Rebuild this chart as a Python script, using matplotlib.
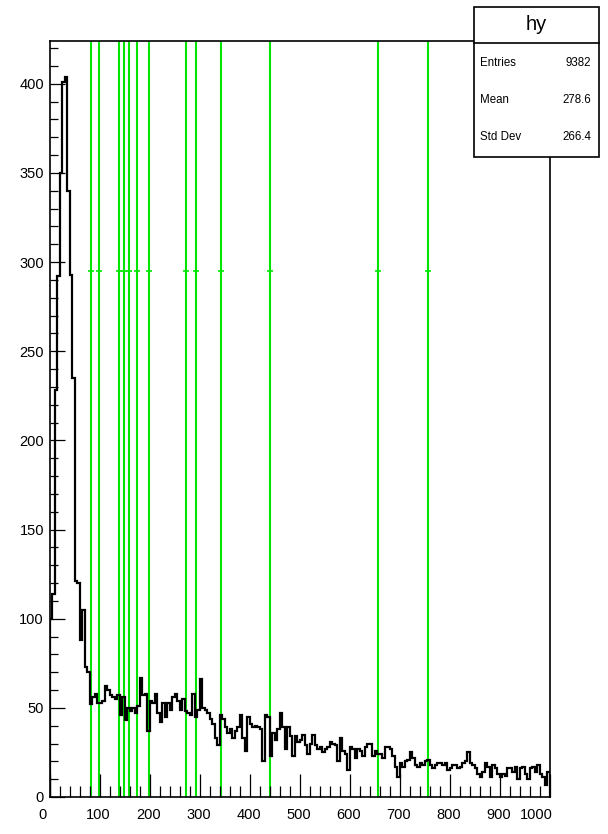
import numpy as np
import matplotlib
matplotlib.use("Agg")
import matplotlib.pyplot as plt
from matplotlib.patches import Rectangle
from matplotlib.ticker import MultipleLocator
from matplotlib.transforms import ScaledTranslation

plt.rcParams['font.family'] = ['Liberation Sans', 'DejaVu Sans']

# histogram "hy": 200 bins of width 5 from 0 to 1000
bin_edges_range = (0, 1000)
counts = [
    100, 114, 228, 292, 350, 401, 404, 340, 293, 235, 121, 120, 88, 105, 73, 70, 52, 56, 58, 53,
    53, 54, 62, 60, 57, 56, 55, 57, 46, 56, 43, 50, 48, 50, 47, 51, 67, 57, 58, 37,
    54, 53, 58, 47, 42, 53, 45, 53, 49, 56, 58, 54, 49, 55, 48, 47, 46, 58, 45, 49,
    66, 50, 49, 47, 44, 41, 33, 29, 46, 44, 39, 36, 38, 33, 37, 39, 46, 33, 26, 45,
    41, 39, 40, 39, 38, 20, 46, 45, 23, 36, 32, 38, 47, 39, 27, 39, 34, 23, 34, 31,
    32, 35, 29, 24, 30, 35, 29, 27, 28, 25, 27, 28, 31, 30, 29, 20, 33, 26, 24, 15,
    28, 27, 22, 27, 26, 23, 28, 30, 30, 23, 26, 24, 24, 22, 28, 28, 27, 23, 17, 11,
    19, 17, 20, 21, 25, 22, 18, 17, 19, 18, 20, 21, 18, 16, 18, 19, 19, 18, 19, 15,
    16, 18, 18, 16, 17, 19, 20, 25, 19, 18, 16, 13, 11, 14, 19, 17, 11, 18, 16, 13,
    11, 13, 12, 16, 16, 14, 17, 10, 16, 17, 13, 10, 16, 17, 14, 18, 13, 11, 7, 14,
]

# positions of found peaks (green lines) and the level of their markers
peak_x = [82, 99, 138, 149, 158, 174, 198, 273, 293, 342, 441, 656, 756]
peak_marker_y = 295

x_ticks = [0, 100, 200, 300, 400, 500, 600, 700, 800, 900, 1000]

stats_title = "hy"
stats_names = ["Entries", "Mean", "Std Dev"]
stats_values = ["9382", "278.6", "266.4"]

W, H = 608, 834
fig = plt.figure(figsize=(W / 100, H / 100), dpi=100)
ax = fig.add_axes([49.5 / W, 1 - 797 / H, 500 / W, 756 / H])

edges = np.linspace(bin_edges_range[0], bin_edges_range[1], len(counts) + 1)

# green peak lines under the histogram
for px in peak_x:
    ax.axvline(px, color='#00e600', lw=1.5, zorder=1)
ax.plot(peak_x, [peak_marker_y] * len(peak_x), ls='none', marker='_',
        ms=5, mew=1.2, color='#00e600', zorder=1)

ax.stairs(counts, edges, color='black', lw=1.6, zorder=3)

ax.set_xlim(0, 1000)
ax.set_ylim(0, 424)
ax.set_xticks(x_ticks)
ax.set_xticklabels([])
ax.xaxis.set_minor_locator(MultipleLocator(20))
ax.yaxis.set_major_locator(MultipleLocator(50))
ax.yaxis.set_minor_locator(MultipleLocator(10))
ax.tick_params(axis='x', which='major', direction='in', length=16.3, width=0.9)
ax.tick_params(axis='x', which='minor', direction='in', length=8.2, width=0.9)
ax.tick_params(axis='y', which='major', direction='in', length=10.8, width=0.9, pad=4, labelsize=10.5)
ax.tick_params(axis='y', which='minor', direction='in', length=5.4, width=0.9)
for sp in ax.spines.values():
    sp.set_linewidth(1.2)

# x labels, ROOT nudges the first and last one to the left
for t in x_ticks:
    dx = -7 if t == 0 else (-13 if t == 1000 else -1)
    tr = ax.get_xaxis_transform() + ScaledTranslation(dx / 100, -18 / 100, fig.dpi_scale_trans)
    ax.text(t, 0, str(t), transform=tr, ha='center', va='center', fontsize=10.5)

# stats box
bx0, by0, bx1, by1 = 474 / W, 1 - 157 / H, 599 / W, 1 - 7 / H
fig.patches.append(Rectangle((bx0, by0), bx1 - bx0, by1 - by0, transform=fig.transFigure,
                             facecolor='white', edgecolor='black', lw=1.2, zorder=5))
fig.add_artist(plt.Line2D([bx0, bx1], [1 - 43 / H] * 2, transform=fig.transFigure,
                          color='black', lw=1.2, zorder=6))
fig.text((bx0 + bx1) / 2, 1 - 25 / H, stats_title, ha='center', va='center', fontsize=14.5, zorder=7)
for i, (name, val) in enumerate(zip(stats_names, stats_values)):
    yy = 1 - (63 + 37 * i) / H
    fig.text(480 / W, yy, name, ha='left', va='center', fontsize=8.3, zorder=7)
    fig.text(591 / W, yy, val, ha='right', va='center', fontsize=8.3, zorder=7)

fig.savefig("out.png", dpi=100)
